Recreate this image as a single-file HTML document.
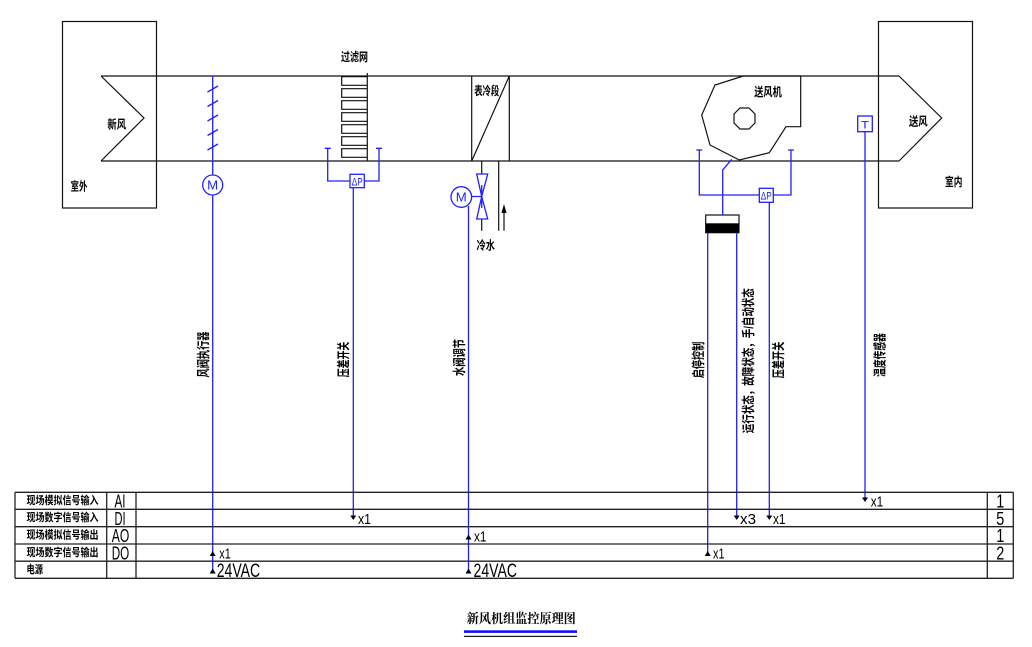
<!DOCTYPE html>
<html><head><meta charset="utf-8"><style>
html,body{margin:0;padding:0;background:#fff;}
svg{display:block;}
.cn{font-family:"Liberation Sans","Noto Sans CJK SC",sans-serif;fill:#000;font-weight:bold;}
.lt{font-family:"Liberation Sans",sans-serif;fill:#000;}
</style></head><body>
<svg width="1032" height="647" viewBox="0 0 1032 647" xmlns="http://www.w3.org/2000/svg">
<rect width="1032" height="647" fill="#fff"/>
<!-- outer boxes -->
<g fill="none" stroke="#111" stroke-width="1.2">
<rect x="62.5" y="21.5" width="94" height="186.5"/>
<rect x="878.5" y="21.5" width="94" height="186.5"/>
<!-- duct -->
<path d="M101,76 L899,76 M101,161 L899,161"/>
<path d="M101,76 L144,118 L101,161"/>
<path d="M899,76 L941.7,118 L899,161"/>
<!-- filter -->
<path d="M367.3,73 L367.3,161"/>
<path d="M367.3,76.7 H341.7 V85.3 H367.3 M367.3,88.7 H341.7 V97.3 H367.3 M367.3,100.7 H341.7 V109.3 H367.3 M367.3,112.7 H341.7 V121.3 H367.3 M367.3,124.7 H341.7 V133.3 H367.3 M367.3,136.7 H341.7 V145.3 H367.3 M367.3,148.7 H341.7 V157.3 H367.3"/>
<!-- coil -->
<path d="M471.7,76 V161 M509.3,76 V161 M471.7,161 L509.3,76"/>
<!-- pipes -->
<path d="M481.7,161 V174 M481.7,219 V230.7 M498.7,161 V230.7 M504,212 V230.7"/>
<!-- fan -->
<path d="M743.3,76 L800.7,76 L800.7,126.7 L786,126.7 L769.3,152.7 L739.3,160 L710,145 L701.7,115 L715,85 Z"/>
<path d="M740,108 L749,108 L755,114 L755,123 L749,129 L740,129 L734,123 L734,114 Z"/>
</g>
<path d="M504,204 L506.5,213 L501.5,213 Z" fill="#000"/>
<!-- starter box -->
<rect x="705.7" y="215" width="33.3" height="17.7" fill="#fff" stroke="#111" stroke-width="1.2"/>
<rect x="705.7" y="223.3" width="33.3" height="9.4" fill="#000"/>

<!-- blue elements -->
<g fill="none" stroke="#2020ff" stroke-width="1.3">
<!-- damper -->
<path d="M212.7,76 V175 M212.7,195 V573"/>
<path d="M207.5,92 L218,86 M207.5,106.5 L218,100.5 M207.5,121 L218,115 M207.5,135.5 L218,129.5 M207.5,150 L218,144"/>
<circle cx="212.7" cy="185" r="10"/>
<!-- filter dP -->
<path d="M324.7,148.3 H330.7 M327.7,148.3 V181 H350 M364.3,181 H379 V148.3 M376,148.3 H382"/>
<rect x="350" y="174.3" width="14.3" height="13.4"/>
<path d="M353.3,187.7 V519"/>
<!-- valve -->
<circle cx="461.3" cy="197" r="10.3"/>
<path d="M471.6,196.5 H481.7 M481.7,185 V208"/>
<path d="M476.7,174 H487.7 L481.7,196.5 Z M476.7,219 H487.7 L481.7,196.5 Z"/>
<path d="M468.5,206 V573"/>
<!-- fan -->
<path d="M731.7,159.3 L722.7,170 V215"/>
<path d="M696.3,150 H702.3 M699.3,150 V195 H759.3 M773.3,195 H791 V150 M788,150 H794"/>
<rect x="759.3" y="188.3" width="14" height="14"/>
<path d="M769.3,202.3 V519"/>
<path d="M707.7,232.7 V553 M736.7,232.7 V519"/>
<!-- T sensor -->
<rect x="857.7" y="116" width="14.6" height="15.7"/>
<path d="M865,131.7 V501"/>
</g>
<g font-family="Liberation Sans,sans-serif" fill="#2020ff">
<text x="212.7" y="189.5" font-size="13" text-anchor="middle" textLength="11" lengthAdjust="spacingAndGlyphs">M</text>
<text x="461.3" y="201.5" font-size="13" text-anchor="middle" textLength="11" lengthAdjust="spacingAndGlyphs">M</text>
<text x="357.2" y="185.5" font-size="11" text-anchor="middle" textLength="11" lengthAdjust="spacingAndGlyphs">ΔP</text>
<text x="766.3" y="199.5" font-size="11" text-anchor="middle" textLength="11" lengthAdjust="spacingAndGlyphs">ΔP</text>
<text x="865" y="128.5" font-size="11" text-anchor="middle" textLength="8" lengthAdjust="spacingAndGlyphs">T</text>
</g>

<!-- top labels -->
<g class="cn" font-size="12" text-anchor="middle" dominant-baseline="central">
<text x="354.5" y="57" textLength="27" lengthAdjust="spacingAndGlyphs">过滤网</text>
<text x="486.7" y="91" textLength="25" lengthAdjust="spacingAndGlyphs">表冷段</text>
<text x="768" y="92" textLength="27.5" lengthAdjust="spacingAndGlyphs">送风机</text>
<text x="116.7" y="124.5" textLength="18.7" lengthAdjust="spacingAndGlyphs">新风</text>
<text x="79" y="186.7" textLength="16.7" lengthAdjust="spacingAndGlyphs">室外</text>
<text x="918.3" y="121.3" textLength="18.7" lengthAdjust="spacingAndGlyphs">送风</text>
<text x="953.7" y="182" textLength="17.3" lengthAdjust="spacingAndGlyphs">室内</text>
<text x="485.8" y="245.5" textLength="18.3" lengthAdjust="spacingAndGlyphs">冷水</text>
</g>

<!-- vertical labels -->
<g class="cn" font-size="13" text-anchor="middle" dominant-baseline="central">
<text transform="translate(203.5,354.5) rotate(-90)" textLength="46" lengthAdjust="spacingAndGlyphs">风阀执行器</text>
<text transform="translate(343.5,359.5) rotate(-90)" textLength="35.5" lengthAdjust="spacingAndGlyphs">压差开关</text>
<text transform="translate(459.5,357.5) rotate(-90)" textLength="37" lengthAdjust="spacingAndGlyphs">水阀调节</text>
<text transform="translate(698.5,360) rotate(-90)" textLength="36.6" lengthAdjust="spacingAndGlyphs">启停控制</text>
<text transform="translate(748.5,360.7) rotate(-90)" textLength="145" lengthAdjust="spacingAndGlyphs">运行状态，故障状态，手/自动状态</text>
<text transform="translate(778.5,360) rotate(-90)" textLength="36.6" lengthAdjust="spacingAndGlyphs">压差开关</text>
<text transform="translate(880,355) rotate(-90)" textLength="43.7" lengthAdjust="spacingAndGlyphs">温度传感器</text>
</g>

<!-- table -->
<g fill="none" stroke="#222" stroke-width="1.3">
<path d="M15,492.3 H1013.3 M15,509.3 H1013.3 M15,526.7 H1013.3 M15,544 H1013.3 M15,561.2 H1013.3 M15,578.3 H1013.3"/>
<path d="M15,492.3 V578.3 M106.7,492.3 V578.3 M136,492.3 V578.3 M987.3,492.3 V578.3 M1013.3,492.3 V578.3"/>
</g>
<g class="cn" font-size="11" dominant-baseline="central">
<text x="26.5" y="501" textLength="72" lengthAdjust="spacingAndGlyphs">现场模拟信号输入</text>
<text x="26.5" y="518.2" textLength="72" lengthAdjust="spacingAndGlyphs">现场数字信号输入</text>
<text x="26.5" y="535.5" textLength="72" lengthAdjust="spacingAndGlyphs">现场模拟信号输出</text>
<text x="26.5" y="552.8" textLength="72" lengthAdjust="spacingAndGlyphs">现场数字信号输出</text>
<text x="26.5" y="570" textLength="16.5" lengthAdjust="spacingAndGlyphs">电源</text>
</g>
<g class="lt" font-size="18" text-anchor="middle">
<text x="120" y="507.5" textLength="11" lengthAdjust="spacingAndGlyphs">AI</text>
<text x="120" y="524.8" textLength="11" lengthAdjust="spacingAndGlyphs">DI</text>
<text x="120.5" y="542" textLength="17.5" lengthAdjust="spacingAndGlyphs">AO</text>
<text x="120.5" y="559.3" textLength="17.5" lengthAdjust="spacingAndGlyphs">DO</text>
<text x="1000.3" y="507.5" textLength="8" lengthAdjust="spacingAndGlyphs">1</text>
<text x="1000.3" y="524.8" textLength="8" lengthAdjust="spacingAndGlyphs">5</text>
<text x="1000.3" y="542" textLength="8" lengthAdjust="spacingAndGlyphs">1</text>
<text x="1000.3" y="559.3" textLength="8" lengthAdjust="spacingAndGlyphs">2</text>
</g>
<!-- markers -->
<g fill="#000">
<path d="M862,497.5 H868 L865,502 Z"/>
<path d="M350.3,515.5 H356.3 L353.3,520 Z"/>
<path d="M733.7,515.5 H739.7 L736.7,520 Z"/>
<path d="M766.3,515.5 H772.3 L769.3,520 Z"/>
<path d="M465.5,539.5 H471.5 L468.5,534.5 Z"/>
<path d="M209.7,556 H215.7 L212.7,551 Z"/>
<path d="M704.7,556 H710.7 L707.7,551 Z"/>
<path d="M209.7,573.5 H215.7 L212.7,568.5 Z"/>
<path d="M465.5,573.5 H471.5 L468.5,568.5 Z"/>
</g>
<g class="lt" font-size="15">
<text x="870.7" y="506.5" textLength="12.5" lengthAdjust="spacingAndGlyphs">x1</text>
<text x="358" y="524" textLength="13" lengthAdjust="spacingAndGlyphs">x1</text>
<text x="740" y="524" textLength="16" lengthAdjust="spacingAndGlyphs">x3</text>
<text x="773" y="524" textLength="12.5" lengthAdjust="spacingAndGlyphs">x1</text>
<text x="474" y="541.5" textLength="12.5" lengthAdjust="spacingAndGlyphs">x1</text>
<text x="219.3" y="558.5" textLength="11.5" lengthAdjust="spacingAndGlyphs">x1</text>
<text x="713" y="558.5" textLength="11.5" lengthAdjust="spacingAndGlyphs">x1</text>
</g>
<g class="lt" font-size="19">
<text x="216.7" y="577" textLength="43.5" lengthAdjust="spacingAndGlyphs">24VAC</text>
<text x="473.5" y="577" textLength="43.5" lengthAdjust="spacingAndGlyphs">24VAC</text>
</g>

<!-- title -->
<text x="521.3" y="618.5" font-family="Liberation Serif, 'Noto Serif CJK SC', serif" font-weight="bold" font-size="13" text-anchor="middle" dominant-baseline="central" textLength="109" lengthAdjust="spacingAndGlyphs">新风机组监控原理图</text>
<rect x="464" y="630.3" width="113" height="2.6" fill="#1010ff"/>
<rect x="464" y="635.8" width="113" height="1.1" fill="#000"/>
</svg>
</body></html>
